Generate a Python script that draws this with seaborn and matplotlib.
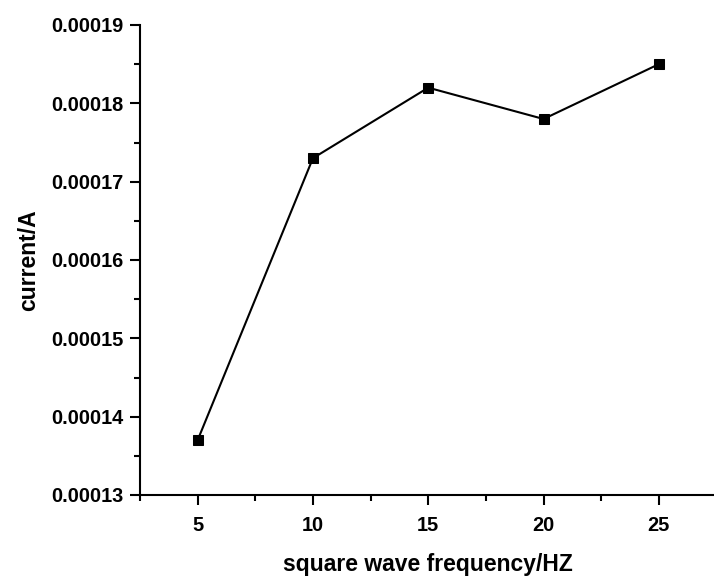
import matplotlib
matplotlib.use("Agg")
import matplotlib.pyplot as plt
import seaborn as sns
import pandas as pd
from matplotlib.ticker import MultipleLocator, FuncFormatter

freq = [5, 10, 15, 20, 25]
current = [0.000137, 0.000173, 0.000182, 0.000178, 0.000185]

df = pd.DataFrame({"freq": freq, "current": current})

sns.set_style("ticks")
plt.rcParams['font.family'] = ['Liberation Sans', 'DejaVu Sans']
plt.rcParams['font.weight'] = 'bold'
plt.rcParams['text.color'] = 'black'
plt.rcParams['axes.labelcolor'] = 'black'
plt.rcParams['xtick.color'] = 'black'
plt.rcParams['ytick.color'] = 'black'
plt.rcParams['axes.edgecolor'] = 'black'

fig = plt.figure(figsize=(7.14, 5.77), dpi=100)
ax = fig.add_axes([140/714, 1 - 495/577, (716.5 - 140)/714, (495 - 25)/577])

sns.lineplot(data=df, x="freq", y="current", ax=ax, color="black", linewidth=1.5,
             marker="s", markersize=7, markeredgecolor="black", markerfacecolor="black")

ax.set_xlim(2.5, 27.5)
ax.set_ylim(0.00013, 0.00019)
ax.xaxis.set_major_locator(MultipleLocator(5))
ax.xaxis.set_minor_locator(MultipleLocator(2.5))
ax.yaxis.set_major_locator(MultipleLocator(0.00001))
ax.yaxis.set_minor_locator(MultipleLocator(0.000005))
ax.yaxis.set_major_formatter(FuncFormatter(lambda v, p: f"{v:.5f}"))

for s in ["top", "right"]:
    ax.spines[s].set_visible(False)
for s in ["left", "bottom"]:
    ax.spines[s].set_linewidth(1.5)
    ax.spines[s].set_color("black")

ax.tick_params(which="major", direction="out", length=7, width=1.5, labelsize=14.4, labelcolor="black")
ax.tick_params(axis="y", which="major", pad=5)
ax.tick_params(axis="x", which="major", pad=8)
ax.tick_params(which="minor", direction="out", length=4, width=1.5)
for lab in ax.get_xticklabels() + ax.get_yticklabels():
    lab.set_fontweight("bold")

ax.set_xlabel("square wave frequency/HZ", fontsize=16.5, fontweight="bold", labelpad=13, color="black")
ax.set_ylabel("current/A", fontsize=16.5, fontweight="bold", labelpad=8, color="black")

fig.savefig("out.png", dpi=100)
